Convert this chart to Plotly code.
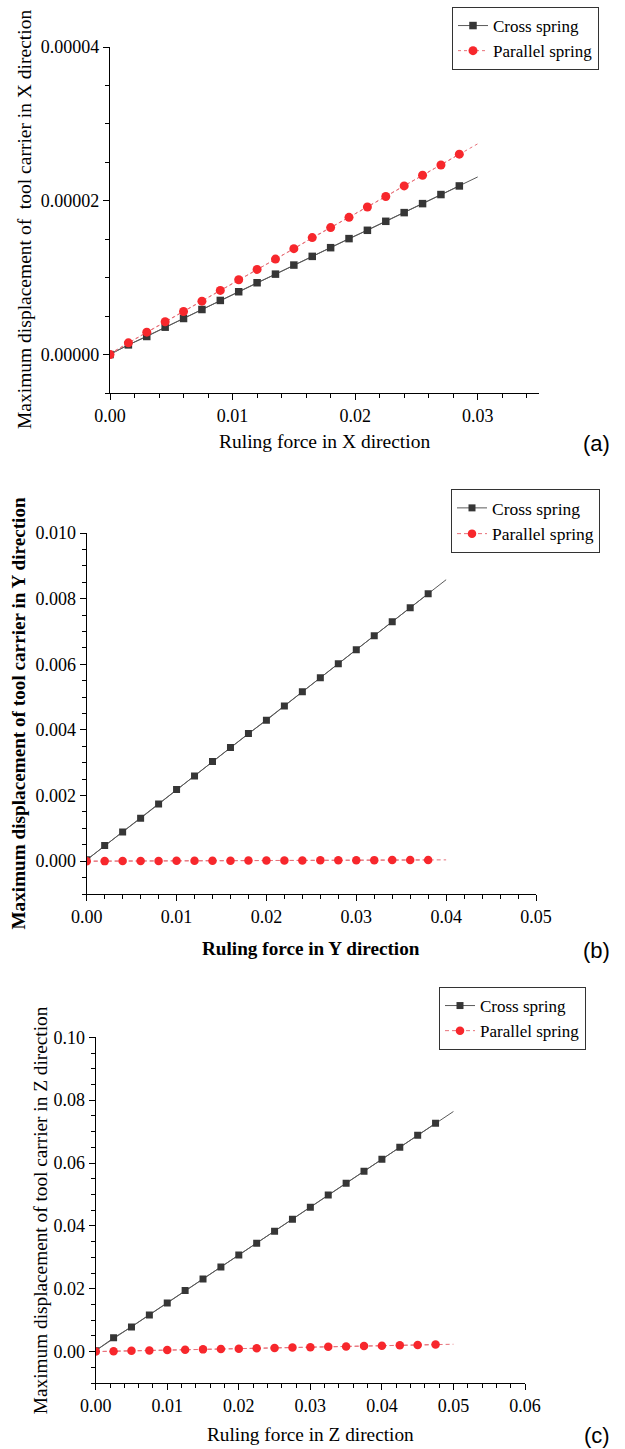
import numpy as np
import plotly.graph_objects as go

# ---------------- data ----------------
# (a) X direction
force_x = [0, 0.0015, 0.003, 0.0045, 0.006, 0.0075, 0.009, 0.0105, 0.012, 0.0135,
           0.015, 0.0165, 0.018, 0.0195, 0.021, 0.0225, 0.024, 0.0255, 0.027, 0.0285]
cross_x = [0, 1.26e-6, 2.35e-6, 3.56e-6, 4.69e-6, 5.86e-6, 7.04e-6, 8.17e-6, 9.34e-6, 1.046e-5,
           1.164e-5, 1.277e-5, 1.390e-5, 1.508e-5, 1.616e-5, 1.733e-5, 1.846e-5, 1.963e-5, 2.081e-5, 2.193e-5]
parallel_x = [0, 1.52e-6, 2.91e-6, 4.26e-6, 5.60e-6, 6.94e-6, 8.34e-6, 9.73e-6, 1.107e-5, 1.242e-5,
              1.377e-5, 1.521e-5, 1.651e-5, 1.785e-5, 1.919e-5, 2.055e-5, 2.193e-5, 2.332e-5, 2.466e-5, 2.606e-5]

# (b) Y direction
force_y = [0, 0.002, 0.004, 0.006, 0.008, 0.010, 0.012, 0.014, 0.016, 0.018,
           0.020, 0.022, 0.024, 0.026, 0.028, 0.030, 0.032, 0.034, 0.036, 0.038]
cross_y = [0.00004, 0.000478, 0.000892, 0.001309, 0.001744, 0.002183, 0.002597, 0.003035, 0.003461, 0.003887,
           0.004292, 0.004728, 0.005166, 0.005592, 0.006018, 0.006444, 0.006871, 0.007297, 0.007723, 0.008149]
parallel_y = [0, 0.000002, 0.000004, 0.000006, 0.000008, 0.00001, 0.000012, 0.000014, 0.000016, 0.000018,
              0.00002, 0.000022, 0.000024, 0.000026, 0.000028, 0.00003, 0.000032, 0.000034, 0.000036, 0.000038]

# (c) Z direction
force_z = [0, 0.0025, 0.005, 0.0075, 0.010, 0.0125, 0.015, 0.0175, 0.020, 0.0225,
           0.025, 0.0275, 0.030, 0.0325, 0.035, 0.0375, 0.040, 0.0425, 0.045, 0.0475]
cross_z = [0.0003, 0.00436, 0.00785, 0.01167, 0.01549, 0.0194, 0.02312, 0.02694, 0.03075, 0.03447,
           0.03829, 0.0421, 0.04592, 0.04984, 0.05356, 0.05737, 0.06118, 0.065, 0.06882, 0.07263]
parallel_z = [0, 0.00012, 0.00023, 0.00035, 0.00047, 0.00058, 0.0007, 0.00082, 0.00093, 0.00105,
              0.00117, 0.00128, 0.0014, 0.00152, 0.00163, 0.00175, 0.00187, 0.00198, 0.0021, 0.00222]

fit_end = [0.03, 0.04, 0.05]          # x where the drawn fit lines end
series_names = ["Cross spring", "Parallel spring"]
panel_labels = ["(a)", "(b)", "(c)"]
x_titles = ["Ruling force in X direction", "Ruling force in Y direction", "Ruling force in Z direction"]
y_titles = ["Maximum displacement of  tool carrier in X direction",
            "Maximum displacement of tool carrier in Y direction",
            "Maximum displacement of tool carrier in Z direction"]

# ---------------- style ----------------
W, H = 625, 1449
SERIF = "Liberation Serif"
SANS = "Liberation Sans"
CROSS_MK = "#363636"
CROSS_LN = "#5a5a5a"
PAR_MK = "#F7272C"
PAR_LN = "#E8717A"

def px(x):
    return x / W

def py(y):
    return 1 - y / H

# pixel boxes of each plot area: (left, right, top, bottom)
boxes = [(110, 539, 47, 393), (86.7, 536, 533, 894), (95.7, 525, 1037.3, 1383)]
x_ranges = [[0, 0.035], [0, 0.05], [0, 0.06]]
y_ranges = [[-0.000005, 0.00004], [-0.001, 0.010], [-0.01, 0.10]]
x_dticks = [0.01, 0.01, 0.01]
y_dticks = [0.00002, 0.002, 0.02]
y_formats = [".5f", ".3f", ".2f"]
par_dash = ["dot", "4px,3px", "4px,3px"]
legend_pos = [(452, 7), (451, 489), (439, 987)]
legend_font = [17, 17.5, 17]
label_y = [443, 950, 1435]
xtitle_y = [442, 948, 1434]
ytitle_x = [24, 18, 40]
title_bold = [False, True, False]
title_size = [19.5, 19.2, 19.3]
square_size = [7.5, 7, 7]
circle_size = [9, 8.5, 8.5]

datasets = [
    (force_x, cross_x, parallel_x),
    (force_y, cross_y, parallel_y),
    (force_z, cross_z, parallel_z),
]

fig = go.Figure()
annotations = []
layout = {}

for i, (fx, cy, pyv) in enumerate(datasets):
    sfx = "" if i == 0 else str(i + 1)
    xa, ya = "x" + sfx, "y" + sfx
    leg = "legend" + sfx
    fxa = np.array(fx)
    xe = np.array([0.0, fit_end[i]])

    # fit lines (drawn through the data and extended)
    for yv, lc, dash in [(cy, CROSS_LN, "solid"), (pyv, PAR_LN, par_dash[i])]:
        k, b = np.polyfit(fxa, np.array(yv), 1)
        fig.add_trace(go.Scatter(x=xe, y=k * xe + b, mode="lines",
                                 line=dict(color=lc, width=1, dash=dash),
                                 showlegend=False, hoverinfo="skip",
                                 xaxis=xa, yaxis=ya))

    fig.add_trace(go.Scatter(x=fx, y=cy, mode="lines+markers", name=series_names[0],
                             line=dict(color=CROSS_LN, width=1),
                             marker=dict(symbol="square", size=square_size[i], color=CROSS_MK),
                             xaxis=xa, yaxis=ya, legend=leg))
    fig.add_trace(go.Scatter(x=fx, y=pyv, mode="lines+markers", name=series_names[1],
                             line=dict(color=PAR_LN, width=1, dash=par_dash[i]),
                             marker=dict(symbol="circle", size=circle_size[i], color=PAR_MK),
                             xaxis=xa, yaxis=ya, legend=leg))

    l, r, t, btm = boxes[i]
    axis_common = dict(showline=True, linecolor="black", linewidth=1.3,
                       ticks="outside", ticklen=6, tickwidth=1.2, tickcolor="black",
                       showgrid=False, zeroline=False, automargin=False,
                       tickfont=dict(family=SERIF, size=18, color="black"),
                       minor=dict(ticks="outside", ticklen=3.5, tickwidth=1.2,
                                  tickcolor="black", showgrid=False))
    layout["xaxis" + sfx] = dict(axis_common, domain=[px(l), px(r)], range=x_ranges[i],
                                 tick0=0, dtick=x_dticks[i], tickformat=".2f",
                                 anchor=ya, fixedrange=True)
    layout["yaxis" + sfx] = dict(axis_common, domain=[py(btm), py(t)], range=y_ranges[i],
                                 tick0=0, dtick=y_dticks[i], tickformat=y_formats[i],
                                 anchor=xa, fixedrange=True)
    lx, ly = legend_pos[i]
    layout[leg] = dict(x=px(lx), y=py(ly), xanchor="left", yanchor="top",
                       bgcolor="white", bordercolor="#333333", borderwidth=1,
                       font=dict(family=SERIF, size=legend_font[i], color="black"),
                       tracegroupgap=0, itemwidth=30)

    wt = "bold" if title_bold[i] else "normal"
    annotations.append(dict(text=x_titles[i], xref="paper", yref="paper",
                            x=px((l + r) / 2), y=py(xtitle_y[i]), xanchor="center", yanchor="middle",
                            showarrow=False,
                            font=dict(family=SERIF, size=title_size[i], color="black", weight=wt)))
    annotations.append(dict(text=y_titles[i], xref="paper", yref="paper", textangle=-90,
                            x=px(ytitle_x[i]), y=py((t + btm) / 2), xanchor="center", yanchor="middle",
                            showarrow=False,
                            font=dict(family=SERIF, size=title_size[i], color="black", weight=wt)))
    annotations.append(dict(text=panel_labels[i], xref="paper", yref="paper",
                            x=px(612), y=py(label_y[i]), xanchor="right", yanchor="middle",
                            showarrow=False, font=dict(family=SANS, size=22, color="black")))

fig.update_layout(template="none", width=W, height=H, margin=dict(l=0, r=0, t=0, b=0),
                  font=dict(family=SERIF, color="black"),
                  paper_bgcolor="white", plot_bgcolor="white",
                  annotations=annotations, **layout)

fig.write_html("out.html", config={"displayModeBar": False},
               post_script="document.body.style.margin='0';document.body.style.overflow='hidden';")
